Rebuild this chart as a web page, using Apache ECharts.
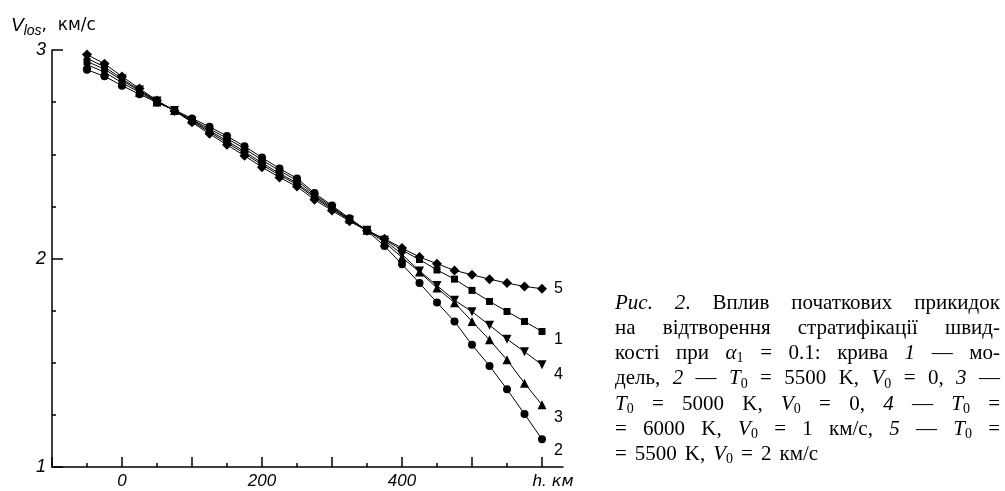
<!DOCTYPE html>
<html>
<head>
<meta charset="utf-8">
<script src="https://cdn.jsdelivr.net/npm/echarts@6/dist/echarts.min.js"></script>
<style>
  html, body { margin: 0; padding: 0; background: #fff; }
  #chart { width: 1005px; height: 491px; }
</style>
</head>
<body>
<div id="chart"></div>
<script>
// heights h, km
const heights = [-50, -25, 0, 25, 50, 75, 100, 125, 150, 175, 200, 225, 250, 275, 300,
  325, 350, 375, 400, 425, 450, 475, 500, 525, 550, 575, 600];

// V_los, km/s
const curve1 = [2.945, 2.908, 2.854, 2.804, 2.753, 2.710, 2.662, 2.613, 2.564, 2.513, 2.458, 2.408, 2.362, 2.298,
  2.242, 2.186, 2.137, 2.092, 2.040, 1.995, 1.945, 1.901, 1.847, 1.794, 1.746, 1.698, 1.650];
const curve2 = [2.905, 2.874, 2.829, 2.788, 2.748, 2.712, 2.672, 2.632, 2.587, 2.538, 2.484, 2.432, 2.384, 2.314,
  2.254, 2.193, 2.133, 2.060, 1.972, 1.882, 1.789, 1.698, 1.586, 1.485, 1.373, 1.254, 1.133];
const curve3 = [2.930, 2.894, 2.843, 2.797, 2.751, 2.710, 2.666, 2.622, 2.576, 2.527, 2.472, 2.421, 2.374, 2.306,
  2.248, 2.189, 2.135, 2.078, 2.005, 1.935, 1.858, 1.788, 1.698, 1.610, 1.514, 1.402, 1.298];
const curve4 = [2.960, 2.919, 2.862, 2.808, 2.755, 2.710, 2.658, 2.606, 2.555, 2.504, 2.449, 2.400, 2.355, 2.291,
  2.237, 2.184, 2.135, 2.088, 2.020, 1.940, 1.870, 1.800, 1.745, 1.680, 1.613, 1.553, 1.490];
const curve5 = [2.978, 2.934, 2.873, 2.815, 2.758, 2.708, 2.653, 2.598, 2.545, 2.493, 2.438, 2.389, 2.345, 2.282,
  2.230, 2.179, 2.133, 2.095, 2.050, 2.007, 1.975, 1.943, 1.922, 1.901, 1.882, 1.866, 1.855];

const xMajorTicks = [-100, 0, 100, 200, 300, 400, 500, 600];
const xMinorTicks = [-50, 50, 150, 250, 350, 450, 550];
const xLabels = [0, 200, 400, 600];

const captionLines = [
  ['{i|Рис.}', '{i|2}.', 'Вплив', 'початкових', 'прикидок'],
  ['на', 'відтворення', 'стратифікації', 'швид-'],
  ['кості', 'при', '{i|α}{s|1}', '=', '0.1:', 'крива', '{i|1}', '—', 'мо-'],
  ['дель,', '{i|2}', '—', '{i|T}{s|0}', '=', '5500', 'K,', '{i|V}{s|0}', '=', '0,', '{i|3}', '—'],
  ['{i|T}{s|0}', '=', '5000', 'K,', '{i|V}{s|0}', '=', '0,', '{i|4}', '—', '{i|T}{s|0}', '='],
  ['=', '6000', 'K,', '{i|V}{s|0}', '=', '1', 'км/с,', '{i|5}', '—', '{i|T}{s|0}', '='],
  ['=', '5500', 'K,', '{i|V}{s|0}', '=', '2', 'км/с']
];

const serif = '"Liberation Serif", "DejaVu Serif", serif';
const sans = '"Liberation Sans", Arial, sans-serif';
const wide = '"DejaVu Sans", sans-serif';
const fonts = {
  n: '21px ' + serif,
  i: 'italic 21px ' + serif,
  s: '14px ' + serif
};

const measureCtx = document.createElement('canvas').getContext('2d');
function wordWidth(word) {
  let w = 0;
  const re = /\{(\w+)\|([^}]*)\}|([^{]+)/g;
  let m;
  while ((m = re.exec(word))) {
    measureCtx.font = m[1] ? fonts[m[1]] : fonts.n;
    w += measureCtx.measureText(m[1] ? m[2] : m[3]).width;
  }
  return w;
}

function captionGraphics() {
  const left = 615, right = 1000, top0 = 291, step = 25.3;
  const out = [];
  captionLines.forEach((words, li) => {
    const widths = words.map(wordWidth);
    const total = widths.reduce((a, b) => a + b, 0);
    const last = li === captionLines.length - 1;
    const gap = last ? 8 : (right - left - total) / (words.length - 1);
    let x = left;
    words.forEach((w, wi) => {
      out.push({
        type: 'text',
        x: x,
        y: top0 + li * step,
        silent: true,
        style: {
          text: w,
          font: fonts.n,
          fill: '#000',
          lineHeight: 24,
          rich: {
            i: { font: fonts.i, lineHeight: 24 },
            s: { font: fonts.s, lineHeight: 15, verticalAlign: 'bottom' }
          }
        }
      });
      x += widths[wi] + gap;
    });
  });
  return out;
}

function makeSeries(name, values, symbol, size, rotate, dy) {
  return {
    name: name,
    type: 'line',
    data: heights.map((h, i) => [h, values[i]]),
    symbol: symbol,
    symbolSize: size,
    symbolRotate: rotate,
    showAllSymbol: true,
    lineStyle: { color: '#000', width: 1 },
    itemStyle: { color: '#000' },
    endLabel: {
      show: true,
      formatter: '{a}',
      distance: 12,
      offset: [0, dy],
      color: '#000',
      fontFamily: sans,
      fontSize: 16
    },
    emphasis: { disabled: true },
    z: 3
  };
}

const chart = echarts.init(document.getElementById('chart'));
chart.setOption({
  animation: false,
  backgroundColor: '#fff',
  title: {
    left: 6,
    top: 9,
    text: '{v|V}{s|los}{n|,  км/с}',
    textStyle: {
      rich: {
        v: { fontFamily: sans, fontStyle: 'italic', fontWeight: 'normal', fontSize: 19, color: '#000', lineHeight: 24 },
        s: { fontFamily: sans, fontStyle: 'italic', fontWeight: 'normal', fontSize: 14, color: '#000', lineHeight: 15, verticalAlign: 'bottom' },
        n: { fontFamily: wide, fontWeight: 'normal', fontSize: 17, color: '#000', lineHeight: 24 }
      }
    }
  },
  grid: { left: 52, right: 442, top: 50, bottom: 24, containLabel: false, outerBoundsMode: 'none' },
  xAxis: [
    {
      type: 'value',
      min: -100,
      max: 630,
      axisLine: { onZero: false, lineStyle: { color: '#000', width: 1.5 } },
      axisTick: { inside: true, length: 10, lineStyle: { color: '#000', width: 1.5 }, customValues: xMajorTicks },
      splitLine: { show: false },
      axisLabel: {
        customValues: xLabels,
        margin: 6,
        color: '#000',
        fontFamily: sans,
        fontStyle: 'italic',
        fontSize: 17,
        formatter: v => v === 600 ? '{h|h.}{k| км}' : String(v),
        rich: {
          h: { fontFamily: sans, fontStyle: 'italic', fontSize: 17, color: '#000', padding: [0, 0, 0, 22] },
          k: { fontFamily: wide, fontSize: 16, color: '#000' }
        }
      }
    },
    {
      type: 'value',
      min: -100,
      max: 630,
      position: 'bottom',
      axisLine: { show: false, onZero: false },
      axisTick: { inside: true, length: 4, lineStyle: { color: '#000', width: 1.5 }, customValues: xMinorTicks },
      axisLabel: { show: false },
      splitLine: { show: false }
    }
  ],
  yAxis: {
    type: 'value',
    min: 1,
    max: 3,
    interval: 1,
    axisLine: { show: true, onZero: false, lineStyle: { color: '#000', width: 1.5 } },
    axisTick: { show: true, inside: true, length: 11, lineStyle: { color: '#000', width: 1.5 } },
    minorTick: { show: true, splitNumber: 4, length: 4, lineStyle: { color: '#000', width: 1.5 } },
    splitLine: { show: false },
    axisLabel: {
      margin: 6,
      padding: [4, 0, 0, 0],
      color: '#000',
      fontFamily: sans,
      fontStyle: 'italic',
      fontSize: 18
    }
  },
  series: [
    makeSeries('5', curve5, 'diamond', 10, 0, 0),
    makeSeries('1', curve1, 'rect', 7, 0, 8),
    makeSeries('4', curve4, 'triangle', 9, 180, 10),
    makeSeries('3', curve3, 'triangle', 9, 0, 13),
    makeSeries('2', curve2, 'circle', 8, 0, 11)
  ],
  graphic: captionGraphics()
});
</script>
</body>
</html>
